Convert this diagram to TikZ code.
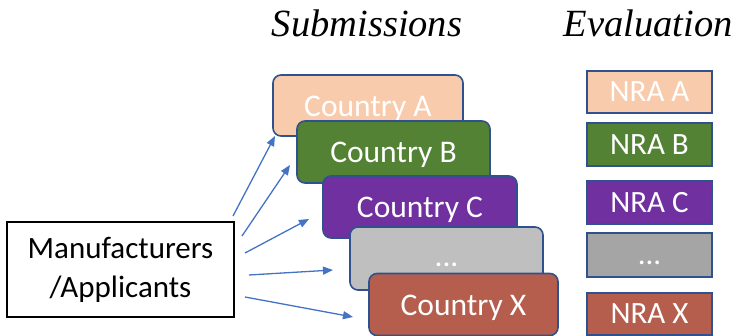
\documentclass[tikz,border=0pt]{standalone}
\usepackage{fontspec}
\setmainfont{Carlito}
\newfontfamily\headfont{Liberation Serif}
\usetikzlibrary{arrows.meta}
\definecolor{cA}{HTML}{F8CBAD}
\definecolor{cB}{HTML}{548235}
\definecolor{cC}{HTML}{7030A0}
\definecolor{cD}{HTML}{BFBFBF}
\definecolor{cDn}{HTML}{A5A5A5}
\definecolor{cX}{HTML}{B55E4E}
\definecolor{edge}{HTML}{2F528F}
\definecolor{arr}{HTML}{4472C4}
\tikzset{
  country/.style={draw=edge, line width=1.6pt, rounded corners=8pt, text=white,
    font=\fontsize{31.5}{34}\selectfont, inner sep=0pt},
  nra/.style={draw=edge, line width=1.6pt, text=white,
    font=\fontsize{31}{34}\selectfont, inner sep=0pt, minimum width=125pt},
  head/.style={font=\headfont\itshape\fontsize{38.5}{40}\selectfont, anchor=base},
  arrow/.style={draw=arr, line width=1.3pt, -{Triangle[length=10pt,width=8pt]}}
}
\newcommand{\lowdots}[1]{\raisebox{-#1}[0pt][0pt]{...}}
\newcommand{\lowtxt}[1]{\raisebox{-3pt}[\height][\depth]{#1}}
\begin{document}
\begin{tikzpicture}[x=1pt,y=-1pt]
\useasboundingbox (0,0) rectangle (737,336);
% headers
\node[head] (hs) at (367,37) {Submissions};
\node[head] (he) at (648,37) {Evaluation};
% country boxes
\node[country, fill=cA, minimum width=190pt, minimum height=61pt] (ca) at (368,105.5) {\lowtxt{Country A}};
\node[country, fill=cB, minimum width=193pt, minimum height=62pt] (cb) at (393.5,152) {\lowtxt{Country B}};
\node[country, fill=cC, minimum width=194pt, minimum height=62pt] (cc) at (420,207) {\lowtxt{Country C}};
\node[country, fill=cD, minimum width=193pt, minimum height=63pt] (cd) at (446.5,258.5) {\lowdots{8.5pt}};
\node[country, fill=cX, minimum width=189pt, minimum height=62pt] (cx) at (463.5,304.5) {\lowtxt{Country X}};
% NRA boxes
\node[nra, fill=cA, minimum height=42pt] (na) at (649.5,92) {NRA A};
\node[nra, fill=cB, minimum height=43pt] (nb) at (649.5,144.5) {NRA B};
\node[nra, fill=cC, minimum height=43pt] (nc) at (649.5,202.5) {NRA C};
\node[nra, fill=cDn, minimum height=44pt] (nd) at (649.5,255) {\lowdots{10pt}};
\node[nra, fill=cX, minimum height=42pt] (nx) at (649.5,314) {NRA X};
% manufacturers
\node[draw=black, line width=1.4pt, minimum width=227pt, minimum height=95pt, inner sep=0pt,
  align=center, font=\fontsize{31}{39}\selectfont] (m) at (120.5,269.5) {Manufacturers\\/Applicants};
% arrow coordinates
\coordinate (s1) at (233,216);
\coordinate (s2) at (242,236);
\coordinate (s3) at (245,253);
\coordinate (s4) at (249,275);
\coordinate (s5) at (245,297);
\coordinate (e1) at (275,136);
\coordinate (e2) at (290,165);
\coordinate (e3) at (309,219);
\coordinate (e4) at (333,270);
\coordinate (e5) at (353,317);
\draw[arrow] (s1) -- (e1);
\draw[arrow] (s2) -- (e2);
\draw[arrow] (s3) -- (e3);
\draw[arrow] (s4) -- (e4);
\draw[arrow] (s5) -- (e5);
\end{tikzpicture}
\end{document}
